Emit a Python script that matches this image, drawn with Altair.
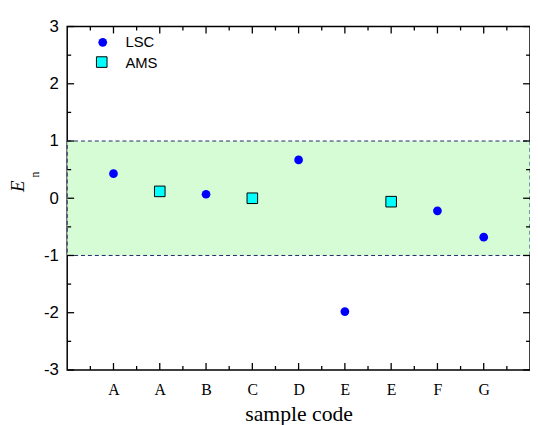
import altair as alt
import pandas as pd

# ---- data ----
tick_labels = ["", "A", "A", "B", "C", "D", "E", "E", "F", "G"]
lsc_pos = [1, 3, 5, 6, 8, 9]
lsc_val = [0.43, 0.07, 0.67, -1.98, -0.22, -0.68]
ams_pos = [2, 4, 7]
ams_val = [0.12, 0.0, -0.06]
series_names = ["LSC", "AMS"]
band_lo, band_hi = [-1], [1]
x_domain = [0, 10]
y_domain = [-3, 3]

W, H = 469, 348

lsc = pd.DataFrame({"pos": lsc_pos, "En": lsc_val})
ams = pd.DataFrame({"pos": ams_pos, "En": ams_val})
band = pd.DataFrame({"x0": [x_domain[0]], "x1": [x_domain[1]], "lo": band_lo, "hi": band_hi})

label_arr = "[" + ",".join("'" + s + "'" for s in tick_labels) + "]"

xscale = alt.Scale(domain=x_domain, nice=False, zero=False)
yscale = alt.Scale(domain=y_domain, nice=False, zero=False)

xaxis = alt.Axis(values=list(range(1, 10)), labelExpr=label_arr + "[datum.value]",
                 ticks=False, domain=False, grid=False, title="sample code",
                 labelFont="Liberation Serif", labelFontSize=16, labelColor="#000",
                 labelPadding=12, titleFont="Liberation Serif", titleFontSize=22,
                 titleFontWeight="normal", titleColor="#000", titlePadding=6)
yaxis = alt.Axis(values=list(range(-3, 4)), labelExpr="'' + datum.value",
                 ticks=False, domain=False, grid=False, title=None,
                 labelFont="Liberation Sans", labelFontSize=17, labelColor="#000",
                 labelPadding=9)

base_band = alt.Chart(band).mark_rect(
    fill="#d5fcd5", stroke="#1f2a6b", strokeDash=[4, 3], strokeWidth=1
).encode(
    x=alt.X("x0:Q", scale=xscale, axis=xaxis),
    x2="x1:Q",
    y=alt.Y("lo:Q", scale=yscale, axis=yaxis),
    y2="hi:Q",
)

# inward ticks
ymaj = pd.DataFrame({"v": list(range(-3, 4))})
ymin = pd.DataFrame({"v": [v + 0.5 for v in range(-3, 3)]})
xmaj = pd.DataFrame({"v": list(range(1, 10))})
xmin = pd.DataFrame({"v": [v + 0.5 for v in range(0, 10)]})

def yt(df, L, side):
    x0 = 0 if side == "l" else W
    x1 = L if side == "l" else W - L
    return alt.Chart(df).mark_rule(color="#000", strokeWidth=1.3).encode(
        y=alt.Y("v:Q", scale=yscale), x=alt.value(x0), x2=alt.value(x1))

def xt(df, L, side):
    y0 = H if side == "b" else 0
    y1 = H - L if side == "b" else L
    return alt.Chart(df).mark_rule(color="#000", strokeWidth=1.3).encode(
        x=alt.X("v:Q", scale=xscale), y=alt.value(y0), y2=alt.value(y1))

ticks = [yt(ymaj, 7, "l"), yt(ymin, 4, "l"), yt(ymaj, 7, "r"), yt(ymin, 4, "r"),
         xt(xmaj, 7, "b"), xt(xmin, 4, "b"), xt(xmaj, 7, "t"), xt(xmin, 4, "t")]

lsc_pts = alt.Chart(lsc).mark_circle(color="#0000ff", opacity=1, size=78).encode(
    x=alt.X("pos:Q", scale=xscale), y=alt.Y("En:Q", scale=yscale))
ams_pts = alt.Chart(ams).mark_square(fill="#00ffff", stroke="#000", strokeWidth=1,
                                     opacity=1, size=115).encode(
    x=alt.X("pos:Q", scale=xscale), y=alt.Y("En:Q", scale=yscale))

# legend (drawn by hand, top-left inside plot)
leg_lsc = alt.Chart(pd.DataFrame({"t": [series_names[0]]})).mark_circle(
    color="#0000ff", opacity=1, size=78).encode(x=alt.value(36), y=alt.value(16))
leg_ams = alt.Chart(pd.DataFrame({"t": [series_names[1]]})).mark_square(
    fill="#00ffff", stroke="#000", strokeWidth=1, opacity=1, size=115).encode(
    x=alt.value(35), y=alt.value(36))
leg_lsc_t = alt.Chart(pd.DataFrame({"t": [series_names[0]]})).mark_text(
    font="Liberation Sans", fontSize=15, align="left", baseline="middle", color="#000"
).encode(text="t:N", x=alt.value(59), y=alt.value(16))
leg_ams_t = alt.Chart(pd.DataFrame({"t": [series_names[1]]})).mark_text(
    font="Liberation Sans", fontSize=15, align="left", baseline="middle", color="#000"
).encode(text="t:N", x=alt.value(59), y=alt.value(37))

ytitle_E = alt.Chart(pd.DataFrame({"t": ["E"]})).mark_text(
    font="Liberation Serif", fontStyle="italic", fontSize=19, angle=270, color="#000",
    baseline="middle", align="center"
).encode(text="t:N", x=alt.value(-50), y=alt.value(162))
ytitle_n = alt.Chart(pd.DataFrame({"t": ["n"]})).mark_text(
    font="Liberation Serif", fontSize=12, angle=270, color="#000",
    baseline="middle", align="center"
).encode(text="t:N", x=alt.value(-33), y=alt.value(150))

chart = alt.layer(base_band, *ticks, lsc_pts, ams_pts, leg_lsc, leg_ams, leg_lsc_t, leg_ams_t,
                  ytitle_E, ytitle_n).properties(
    width=W, height=H,
    autosize=alt.AutoSizeParams(type="none"),
    padding={"left": 60, "top": 16, "right": 0, "bottom": 53},
).configure_view(stroke="#000", strokeWidth=1.5)

chart.save("out.html", embed_options={"renderer": "svg", "actions": False})
